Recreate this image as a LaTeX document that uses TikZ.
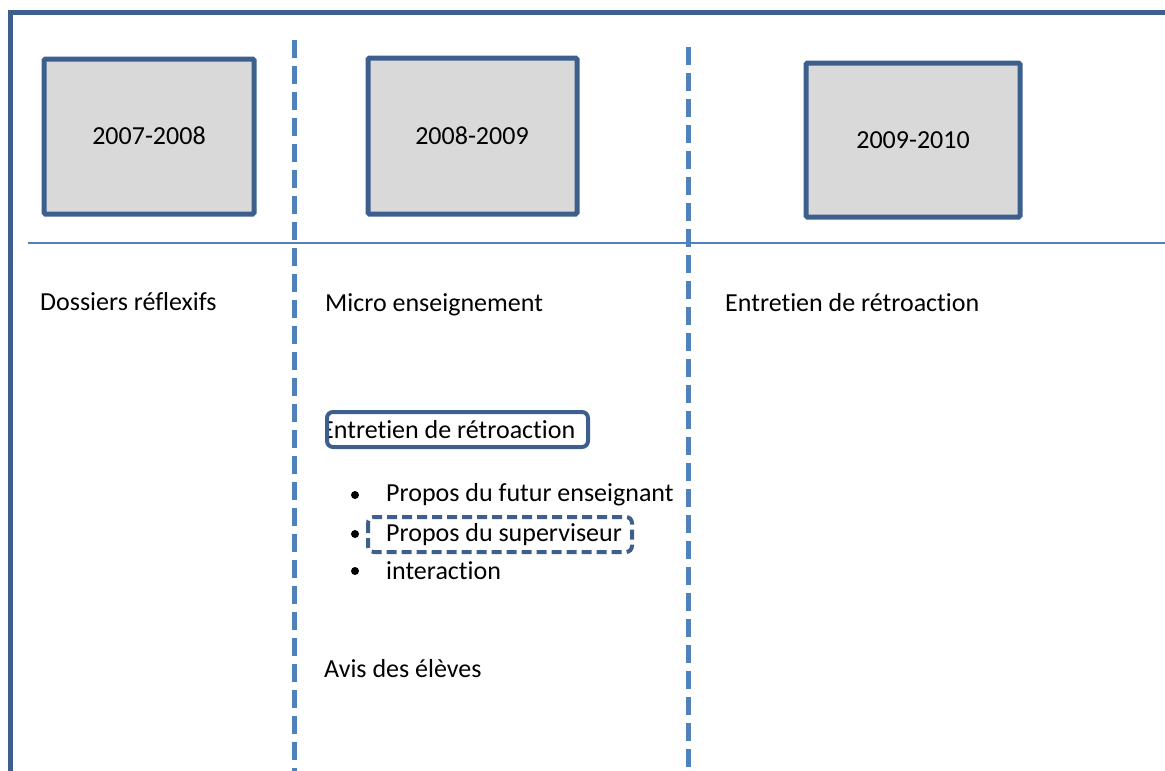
\documentclass[tikz,border=0pt]{standalone}
\usepackage{fontspec}
\setmainfont[Ligatures=NoCommon]{Carlito}
\definecolor{dk}{HTML}{3C5F8E}
\definecolor{lt}{HTML}{4F81BD}
\definecolor{gr}{HTML}{D9D9D9}
\begin{document}
\begin{tikzpicture}[x=1pt,y=-1pt,
  yearbox/.style={draw=dk,line width=5pt,fill=gr,rounded corners=1.5pt},
  lbl/.style={anchor=west,inner sep=0pt,font=\fontsize{26}{30}\selectfont},
  vdash/.style={draw=lt,line width=5pt,dash pattern=on 18pt off 8pt},
  bul/.style={circle,fill=black,inner sep=0pt,minimum size=8pt}]
\useasboundingbox (0,0) rectangle (1165,771);
% outer frame
\draw[dk,line width=5pt] (10,771) -- (10,12) -- (1170,12);
% horizontal line
\draw[lt,line width=2pt] (28,243) -- (1165,243);
% dashed separators
\coordinate (s1t) at (294,40); \coordinate (s1b) at (294,771);
\coordinate (s2t) at (688,47); \coordinate (s2b) at (688,771);
\draw[vdash] (s1t) -- (s1b);
\draw[vdash] (s2t) -- (s2b);
% year boxes
\draw[yearbox] (44,59) rectangle (254,214);
\node[lbl,anchor=center] (y1) at (149,136) {2007-2008};
\draw[yearbox] (368,58) rectangle (577,214);
\node[lbl,anchor=center] (y2) at (472,136) {2008-2009};
\draw[yearbox] (806,63) rectangle (1020,217);
\node[lbl,anchor=center] (y3) at (913,140) {2009-2010};
% texts
\node[lbl] (t1) at (40,302) {Dossiers réflexifs};
\node[lbl] (t2) at (325,305) {Micro enseignement};
\node[lbl] (t3) at (725,303) {Entretien de rétroaction};
\draw[dk,line width=4pt,rounded corners=6pt] (327,412) rectangle (588,447);
\begin{scope}
\clip (329,400) rectangle (600,460);
\node[lbl] (t4) at (321,430) {Entretien de rétroaction};
\end{scope}
\node[bul] (b1) at (355,495) {};
\node[bul] (b2) at (355,534) {};
\node[bul] (b3) at (355,571) {};
\node[lbl] (p1) at (386,495) {Propos du futur enseignant};
\node[lbl] (p2) at (386,535) {Propos du superviseur};
\node[lbl] (p3) at (386,571) {interaction};
\draw[dk,line width=4pt,dash pattern=on 10pt off 5pt,rounded corners=6pt] (368,517) rectangle (632,552);
\node[lbl] (t5) at (324,669) {Avis des élèves};
\end{tikzpicture}
\end{document}
